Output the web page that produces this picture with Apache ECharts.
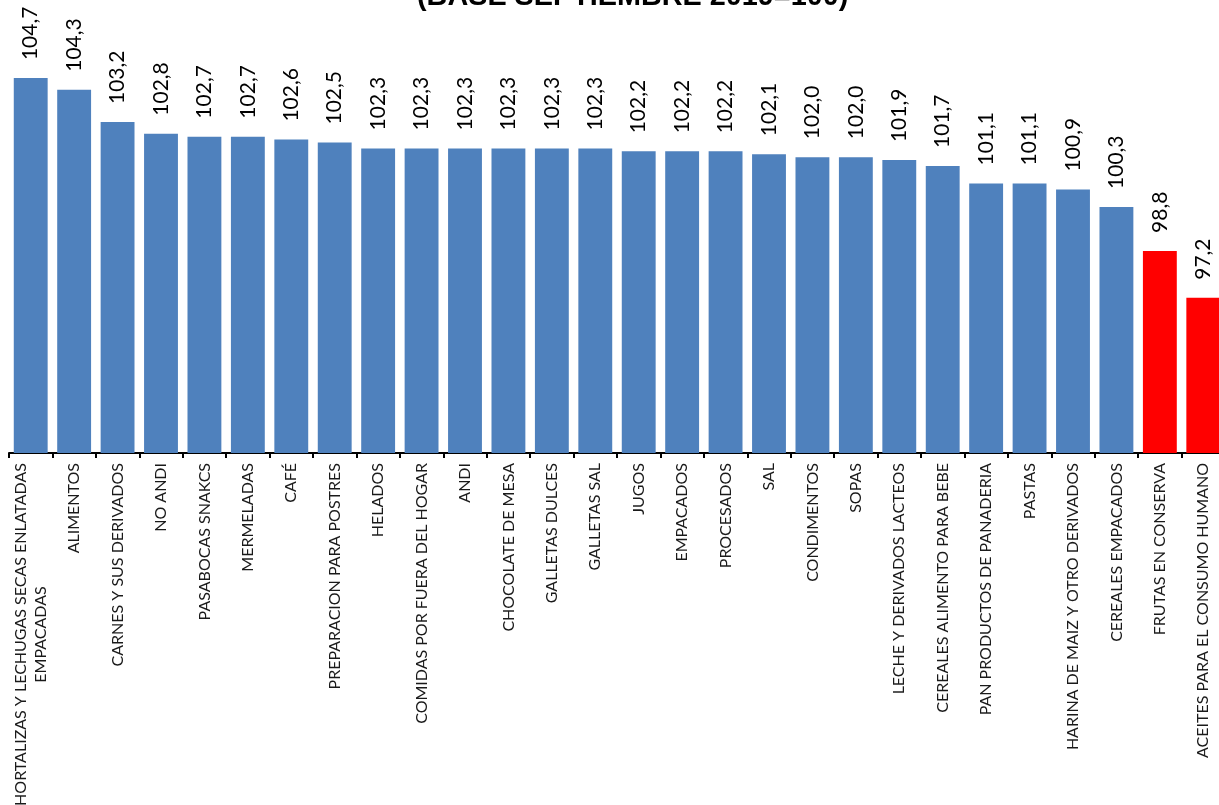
<!DOCTYPE html>
<html>
<head>
<meta charset="utf-8">
<style>
  html, body { margin: 0; padding: 0; background: #ffffff; }
  #chart { width: 1219px; height: 805px; }
</style>
<script src="https://cdn.jsdelivr.net/npm/echarts@6/dist/echarts.min.js"></script>
</head>
<body>
<div id="chart"></div>
<script>
// Índice por subgrupo de alimentos, ordenado de mayor a menor
const titleText = '(BASE SEPTIEMBRE 2019=100)';

const categories = [
  'HORTALIZAS Y LECHUGAS SECAS ENLATADAS\nEMPACADAS',
  'ALIMENTOS',
  'CARNES Y SUS DERIVADOS',
  'NO ANDI',
  'PASABOCAS SNAKCS',
  'MERMELADAS',
  'CAFÉ',
  'PREPARACION PARA POSTRES',
  'HELADOS',
  'COMIDAS POR FUERA DEL HOGAR',
  'ANDI',
  'CHOCOLATE DE MESA',
  'GALLETAS DULCES',
  'GALLETAS SAL',
  'JUGOS',
  'EMPACADOS',
  'PROCESADOS',
  'SAL',
  'CONDIMENTOS',
  'SOPAS',
  'LECHE Y DERIVADOS LACTEOS',
  'CEREALES ALIMENTO PARA BEBE',
  'PAN PRODUCTOS DE PANADERIA',
  'PASTAS',
  'HARINA DE MAIZ Y OTRO DERIVADOS',
  'CEREALES EMPACADOS',
  'FRUTAS EN CONSERVA',
  'ACEITES PARA EL CONSUMO HUMANO'
];

const indexValues = [
  104.7, 104.3, 103.2, 102.8, 102.7, 102.7, 102.6, 102.5, 102.3, 102.3,
  102.3, 102.3, 102.3, 102.3, 102.2, 102.2, 102.2, 102.1, 102.0, 102.0,
  101.9, 101.7, 101.1, 101.1, 100.9, 100.3, 98.8, 97.2
];

// Base del índice: por debajo se resalta en rojo
const baseLevel = 100;
const colorAbove = '#4F81BD';
const colorBelow = '#FF0000';

const labelFont = 'Lato, "Open Sans", sans-serif';
const labelSize = 16;

// Ancho de la línea más larga, para centrar las etiquetas de dos líneas
const measureCtx = document.createElement('canvas').getContext('2d');
measureCtx.font = labelSize + 'px ' + labelFont;
function lineWidth(s) { return Math.ceil(measureCtx.measureText(s).width); }

const chart = echarts.init(document.getElementById('chart'), null, { renderer: 'canvas' });

chart.setOption({
  backgroundColor: '#ffffff',
  animation: false,
  title: {
    text: titleText,
    left: 412,
    top: -22,
    textStyle: {
      fontFamily: '"Liberation Sans", Arial, sans-serif',
      fontWeight: 'bold',
      fontSize: 28.8,
      color: '#000000'
    }
  },
  grid: {
    left: 9,
    top: 40,
    width: 1216,
    height: 413,
    outerBoundsMode: 'none',
    containLabel: false
  },
  xAxis: {
    type: 'category',
    data: categories,
    axisLine: { lineStyle: { color: '#000000', width: 2 } },
    axisTick: { show: true, length: 5, lineStyle: { color: '#000000', width: 2 } },
    axisLabel: {
      rotate: 90,
      margin: 10,
      interval: 0,
      color: '#1a1a1a',
      fontFamily: labelFont,
      fontSize: labelSize,
      lineHeight: 20,
      formatter: function (v) {
        const lines = v.split('\n');
        if (lines.length === 1) return v;
        return lines.map(function (l) { return '{c|' + l + '}'; }).join('\n');
      },
      rich: {
        c: {
          fontFamily: labelFont,
          fontSize: labelSize,
          color: '#1a1a1a',
          lineHeight: 20,
          align: 'center',
          width: lineWidth(categories[0].split('\n')[0])
        }
      }
    }
  },
  yAxis: {
    type: 'value',
    min: 91.9,
    max: 106,
    show: false,
    splitLine: { show: false }
  },
  series: [{
    type: 'bar',
    data: indexValues.map(function (v) {
      return { value: v, itemStyle: { color: v < baseLevel ? colorBelow : colorAbove } };
    }),
    barCategoryGap: '22%',
    label: {
      show: true,
      position: 'top',
      rotate: 90,
      align: 'left',
      verticalAlign: 'middle',
      distance: 18,
      fontFamily: labelFont,
      fontSize: 21,
      color: '#000000',
      formatter: function (p) { return p.value.toFixed(1).replace('.', ','); }
    }
  }]
});
</script>
</body>
</html>
